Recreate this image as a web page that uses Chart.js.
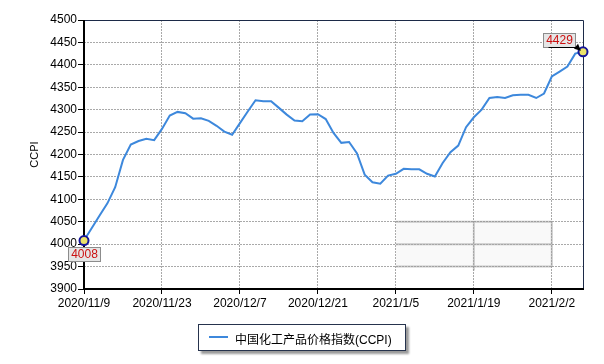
<!DOCTYPE html>
<html>
<head>
<meta charset="utf-8">
<script src="https://cdn.jsdelivr.net/npm/chart.js@4.4.0/dist/chart.umd.min.js"></script>
<style>
  html, body { margin: 0; padding: 0; background: #fff; }
  #wrap { position: relative; width: 604px; height: 364px; }
  #legend {
    position: absolute; left: 198px; top: 324px; width: 206px; height: 25px;
    border: 1px solid #26334d; background: #fff;
    box-shadow: 3px 3px 2px #9a9a9a;
    font-family: "Liberation Sans", "Noto Sans CJK SC", Arial, sans-serif; font-size: 12px; color: #000;
  }
  #legend .sw { position: absolute; left: 10px; top: 11px; width: 19px; height: 2px; background: #3d88dc; }
  #legend .tx { position: absolute; left: 36px; top: 5px; white-space: nowrap; }
</style>
</head>
<body>
<div id="wrap">
  <canvas id="c" width="604" height="364"></canvas>
  <div id="legend"><span class="sw"></span><span class="tx">中国化工产品价格指数(CCPI)</span></div>
</div>
<script>
const dates = [
  "2020/11/9","2020/11/10","2020/11/11","2020/11/12","2020/11/13",
  "2020/11/16","2020/11/17","2020/11/18","2020/11/19","2020/11/20",
  "2020/11/23","2020/11/24","2020/11/25","2020/11/26","2020/11/27",
  "2020/11/30","2020/12/1","2020/12/2","2020/12/3","2020/12/4",
  "2020/12/7","2020/12/8","2020/12/9","2020/12/10","2020/12/11",
  "2020/12/14","2020/12/15","2020/12/16","2020/12/17","2020/12/18",
  "2020/12/21","2020/12/22","2020/12/23","2020/12/24","2020/12/25",
  "2020/12/28","2020/12/29","2020/12/30","2020/12/31","2021/1/4",
  "2021/1/5","2021/1/6","2021/1/7","2021/1/8",
  "2021/1/11","2021/1/12","2021/1/13","2021/1/14","2021/1/15",
  "2021/1/18","2021/1/19","2021/1/20","2021/1/21","2021/1/22",
  "2021/1/25","2021/1/26","2021/1/27","2021/1/28","2021/1/29",
  "2021/2/1","2021/2/2","2021/2/3","2021/2/4","2021/2/5","2021/2/8"
];
const ccpi = [
  4008,4036,4064,4091,4127,
  4188,4222,4230,4235,4232,
  4257,4287,4295,4292,4280,
  4281,4275,4264,4251,4244,
  4270,4296,4321,4319,4319,
  4304,4289,4276,4274,4289,
  4290,4279,4248,4226,4228,
  4203,4155,4138,4135,4153,
  4157,4168,4167,4167,
  4157,4151,4181,4205,4220,
  4261,4283,4300,4326,4328,
  4326,4332,4333,4333,4326,
  4336,4374,4385,4396,4425,4429
];
const yMin = 3900, yMax = 4500, yStep = 50;
const xLabelStep = 10;
const seriesName = "中国化工产品价格指数(CCPI)";
const yTitle = "CCPI";

const FONT = "'Liberation Sans', Arial, sans-serif";
const lastIdx = ccpi.length - 1;

const framePlugin = {
  id: 'frame',
  beforeDatasetsDraw(chart) {
    const {ctx, chartArea: a, scales: {x, y}} = chart;
    ctx.save();
    // faint watermark-like box
    const wx0 = x.getPixelForValue(40), wx1 = x.getPixelForValue(50), wx2 = x.getPixelForValue(60);
    const wy0 = y.getPixelForValue(4050), wy1 = y.getPixelForValue(4000), wy2 = y.getPixelForValue(3950);
    ctx.fillStyle = 'rgba(235,235,235,0.3)';
    ctx.fillRect(wx0, wy0, wx2 - wx0, wy2 - wy0);
    ctx.strokeStyle = 'rgba(140,140,140,0.45)';
    ctx.lineWidth = 2;
    ctx.beginPath();
    [wy0, wy1, wy2].forEach(yy => { ctx.moveTo(wx0, yy); ctx.lineTo(wx2, yy); });
    ctx.moveTo(wx1, wy0); ctx.lineTo(wx1, wy2 + 4);
    ctx.moveTo(wx2, wy0); ctx.lineTo(wx2, wy2);
    ctx.stroke();
    // top & right thin navy border
    ctx.strokeStyle = '#1c2a48';
    ctx.lineWidth = 1;
    ctx.beginPath();
    ctx.moveTo(a.left, a.top + 0.5); ctx.lineTo(a.right + 0.5, a.top + 0.5);
    ctx.lineTo(a.right + 0.5, a.bottom);
    ctx.stroke();
    // left & bottom black axes
    ctx.strokeStyle = '#000';
    ctx.lineWidth = 2;
    ctx.beginPath();
    ctx.moveTo(a.left, a.top); ctx.lineTo(a.left, a.bottom + 1);
    ctx.moveTo(a.left - 1, a.bottom); ctx.lineTo(a.right + 1, a.bottom);
    ctx.stroke();
    ctx.restore();
  },
  afterDatasetsDraw(chart) {
    const {ctx, scales: {x, y}} = chart;
    ctx.save();
    ctx.font = '12px ' + FONT;
    ctx.textAlign = 'center';
    ctx.textBaseline = 'middle';
    // first value label
    const p0x = x.getPixelForValue(0), p0y = y.getPixelForValue(ccpi[0]);
    let bx = Math.round(p0x - 16) + 0.5, by = Math.round(p0y + 6) + 0.5;
    ctx.fillStyle = '#e6e6e6'; ctx.strokeStyle = '#8c8c8c'; ctx.lineWidth = 1;
    ctx.fillRect(bx, by, 32, 14); ctx.strokeRect(bx, by, 32, 14);
    ctx.fillStyle = '#cc1010';
    ctx.fillText(String(ccpi[0]), bx + 16, by + 7.5);
    // last value label with arrow
    const pLx = x.getPixelForValue(lastIdx), pLy = y.getPixelForValue(ccpi[lastIdx]);
    bx = Math.round(pLx - 40) + 0.5; by = Math.round(pLy - 19) + 0.5;
    ctx.fillStyle = '#e6e6e6'; ctx.strokeStyle = '#8c8c8c';
    ctx.fillRect(bx, by, 32, 14); ctx.strokeRect(bx, by, 32, 14);
    ctx.fillStyle = '#cc1010';
    ctx.fillText(String(ccpi[lastIdx]), bx + 16, by + 7.5);
    ctx.strokeStyle = '#000'; ctx.lineWidth = 1;
    const ax0 = bx + 5, ay0 = by + 14, ax1 = pLx - 3, ay1 = pLy - 2;
    ctx.beginPath(); ctx.moveTo(ax0, ay0); ctx.lineTo(ax1 - 5, ay0); ctx.lineTo(ax1, ay1); ctx.stroke();
    ctx.fillStyle = '#000';
    ctx.beginPath(); ctx.moveTo(ax1 + 1, ay1 + 1); ctx.lineTo(ax1 - 6, ay1 - 1); ctx.lineTo(ax1 - 2, ay1 - 6); ctx.closePath(); ctx.fill();
    ctx.restore();
  }
};

new Chart(document.getElementById('c'), {
  type: 'line',
  data: {
    datasets: [{
      label: seriesName,
      data: ccpi.map((v, i) => ({x: i, y: v})),
      borderColor: '#3d88dc',
      borderWidth: 2,
      tension: 0,
      fill: false,
      clip: false,
      pointRadius: ctx => (ctx.dataIndex === 0 || ctx.dataIndex === lastIdx) ? 4.5 : 0,
      pointBorderWidth: 2,
      pointBorderColor: '#15159a',
      pointBackgroundColor: '#ece36a',
      pointHoverRadius: 0
    }]
  },
  options: {
    responsive: false,
    animation: false,
    events: [],
    layout: { padding: { top: 20, right: 21, bottom: 0, left: 0 } },
    plugins: { legend: { display: false }, tooltip: { enabled: false } },
    scales: {
      x: {
        type: 'linear',
        min: 0, max: lastIdx,
        afterFit(s) { s.height = 75; },
        ticks: {
          stepSize: xLabelStep, includeBounds: false, autoSkip: false, maxRotation: 0,
          font: { family: FONT, size: 12 }, color: '#000', padding: 2,
          callback: v => dates[v] || ''
        },
        grid: { color: '#a9a9a9', tickColor: '#000', tickLength: 5, lineWidth: 1, tickBorderDash: [] },
        border: { display: false, dash: [2, 1] }
      },
      y: {
        min: yMin, max: yMax,
        afterFit(s) { s.width = 84; },
        ticks: { stepSize: yStep, font: { family: FONT, size: 12 }, color: '#000', padding: 1, callback: v => String(v) },
        grid: { color: '#a9a9a9', tickColor: '#000', tickLength: 6, lineWidth: 1, tickBorderDash: [] },
        border: { display: false, dash: [2, 1] },
        title: { display: true, text: yTitle, font: { family: FONT, size: 11 }, color: '#000', padding: { top: 28, bottom: 0 } }
      }
    }
  },
  plugins: [framePlugin]
});
</script>
</body>
</html>
